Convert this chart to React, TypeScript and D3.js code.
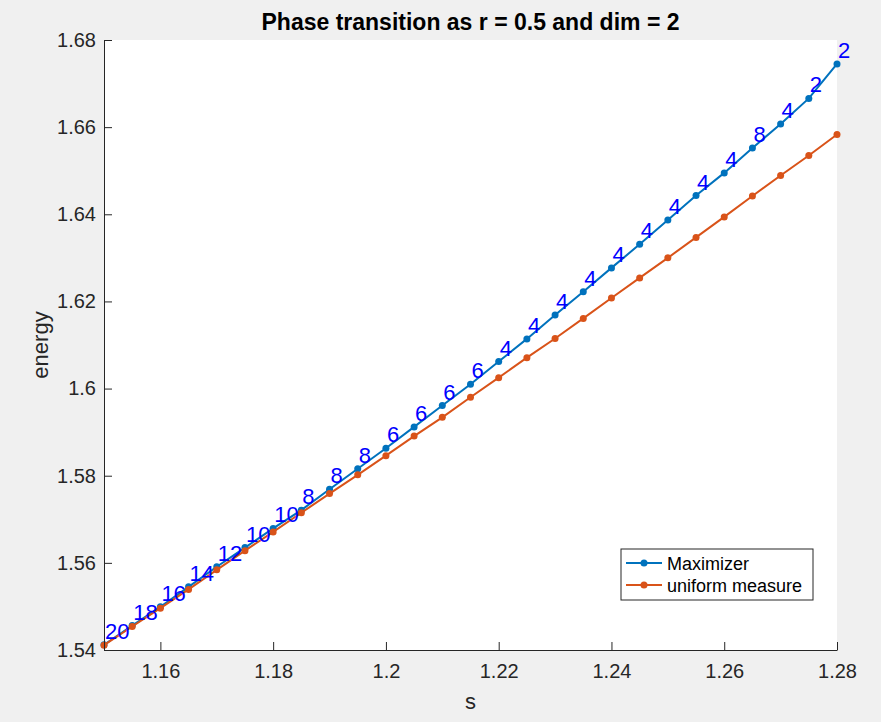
import React, { useEffect, useRef } from "react";
import * as d3 from "d3";

// s values on the x axis
const sValues = [
  1.15, 1.155, 1.16, 1.165, 1.17, 1.175, 1.18, 1.185, 1.19, 1.195, 1.2, 1.205, 1.21, 1.215,
  1.22, 1.225, 1.23, 1.235, 1.24, 1.245, 1.25, 1.255, 1.26, 1.265, 1.27, 1.275, 1.28,
];

// energy of the maximizer
const maximizer = [
  1.5412, 1.5456, 1.5499, 1.5545, 1.5591, 1.5635, 1.5679, 1.5721, 1.5769, 1.5816, 1.5863,
  1.5912, 1.5961, 1.601, 1.6062, 1.6114, 1.6169, 1.6222, 1.6277, 1.6331, 1.6387, 1.6443,
  1.6495, 1.6552, 1.6607, 1.6666, 1.6745,
];

// energy of the uniform measure
const uniform = [
  1.5411, 1.5454, 1.5496, 1.5539, 1.5584, 1.5628, 1.5671, 1.5715, 1.5759, 1.5802, 1.5846,
  1.5891, 1.5934, 1.598, 1.6025, 1.6071, 1.6115, 1.6161, 1.6208, 1.6254, 1.63, 1.6347,
  1.6394, 1.6442, 1.6489, 1.6535, 1.6583,
];

// numbers written next to each maximizer point
const pointLabels = [
  20, 18, 16, 14, 12, 10, 10, 8, 8, 8, 6, 6, 6, 6, 4, 4, 4, 4, 4, 4, 4, 4, 4, 8, 4, 2, 2,
];

const xTicks = [1.16, 1.18, 1.2, 1.22, 1.24, 1.26, 1.28];
const yTicks = [1.54, 1.56, 1.58, 1.6, 1.62, 1.64, 1.66, 1.68];
const seriesNames = ["Maximizer", "uniform measure"];

const W = 881;
const H = 722;
const box = { left: 104, right: 837, top: 40, bottom: 650 };
const FONT = "'Liberation Sans', Arial, Helvetica, sans-serif";
const BLUE = "#0072BD";
const ORANGE = "#D95319";
const AXIS = "#262626";

const fmt = (v: number) => String(+v.toFixed(2));

function PhaseChart() {
  const svgRef = useRef<SVGSVGElement>(null);

  useEffect(() => {
    const svg = d3.select(svgRef.current);
    svg.selectAll("*").remove();

    const x = d3.scaleLinear().domain([1.15, 1.28]).range([box.left, box.right]);
    const y = d3.scaleLinear().domain([1.54, 1.68]).range([box.bottom, box.top]);

    svg.append("rect").attr("width", W).attr("height", H).attr("fill", "#f0f0f0");
    svg
      .append("rect")
      .attr("x", box.left)
      .attr("y", box.top)
      .attr("width", box.right - box.left)
      .attr("height", box.bottom - box.top)
      .attr("fill", "white");

    const line = d3
      .line<number>()
      .x((_, i) => x(sValues[i]))
      .y((d) => y(d));

    const series = [
      { name: seriesNames[0], values: maximizer, color: BLUE },
      { name: seriesNames[1], values: uniform, color: ORANGE },
    ];

    series.forEach((s) => {
      const g = svg.append("g");
      g.append("path")
        .attr("d", line(s.values))
        .attr("fill", "none")
        .attr("stroke", s.color)
        .attr("stroke-width", 2);
      g.selectAll("circle")
        .data(s.values)
        .join("circle")
        .attr("cx", (_, i) => x(sValues[i]))
        .attr("cy", (d) => y(d))
        .attr("r", 3.5)
        .attr("fill", s.color);
    });

    // point labels
    svg
      .append("g")
      .selectAll("text")
      .data(pointLabels)
      .join("text")
      .attr("x", (_, i) => x(sValues[i]) + 1)
      .attr("y", (_, i) => y(maximizer[i]) - 6)
      .attr("fill", "#0000FF")
      .attr("font-family", FONT)
      .attr("font-size", 22)
      .text((d) => d);

    // axes
    const xAxis = d3
      .axisBottom(x)
      .tickValues(xTicks)
      .tickFormat((d) => fmt(+d))
      .tickSizeInner(-8)
      .tickSizeOuter(0)
      .tickPadding(14);
    const yAxis = d3
      .axisLeft(y)
      .tickValues(yTicks)
      .tickFormat((d) => fmt(+d))
      .tickSizeInner(-8)
      .tickSizeOuter(0)
      .tickPadding(8);

    const gx = svg.append("g").attr("transform", `translate(0,${box.bottom})`).call(xAxis);
    const gy = svg.append("g").attr("transform", `translate(${box.left},0)`).call(yAxis);
    [gx, gy].forEach((g) => {
      g.selectAll("path, line").attr("stroke", AXIS).attr("stroke-width", 1);
      g.selectAll("text").attr("fill", AXIS).attr("font-size", 20).attr("font-family", FONT);
    });

    // title and axis labels
    svg
      .append("text")
      .attr("x", (box.left + box.right) / 2)
      .attr("y", 30)
      .attr("text-anchor", "middle")
      .attr("font-family", FONT)
      .attr("font-weight", "bold")
      .attr("font-size", 23)
      .attr("fill", "#000")
      .text("Phase transition as r = 0.5 and dim = 2");

    svg
      .append("text")
      .attr("x", (box.left + box.right) / 2)
      .attr("y", 709)
      .attr("text-anchor", "middle")
      .attr("font-family", FONT)
      .attr("font-size", 22)
      .attr("fill", AXIS)
      .text("s");

    svg
      .append("text")
      .attr("transform", `translate(48,${(box.top + box.bottom) / 2}) rotate(-90)`)
      .attr("text-anchor", "middle")
      .attr("font-family", FONT)
      .attr("font-size", 22)
      .attr("fill", AXIS)
      .text("energy");

    // legend
    const lg = svg.append("g").attr("transform", "translate(621,549)");
    lg.append("rect")
      .attr("width", 192)
      .attr("height", 51)
      .attr("fill", "white")
      .attr("stroke", AXIS)
      .attr("stroke-width", 1);
    series.forEach((s, i) => {
      const row = lg.append("g").attr("transform", `translate(0,${14 + i * 22})`);
      row.append("line")
        .attr("x1", 5)
        .attr("x2", 41)
        .attr("stroke", s.color)
        .attr("stroke-width", 2);
      row.append("circle").attr("cx", 23).attr("r", 3.5).attr("fill", s.color);
      row.append("text")
        .attr("x", 46)
        .attr("y", 7)
        .attr("font-family", FONT)
        .attr("font-size", 18)
        .attr("fill", "#000")
        .text(s.name);
    });
  }, []);

  return <svg ref={svgRef} width={W} height={H} style={{ display: "block" }} />;
}

export default function App() {
  return (
    <div style={{ position: "absolute", left: 0, top: 0 }}>
      <PhaseChart />
    </div>
  );
}
